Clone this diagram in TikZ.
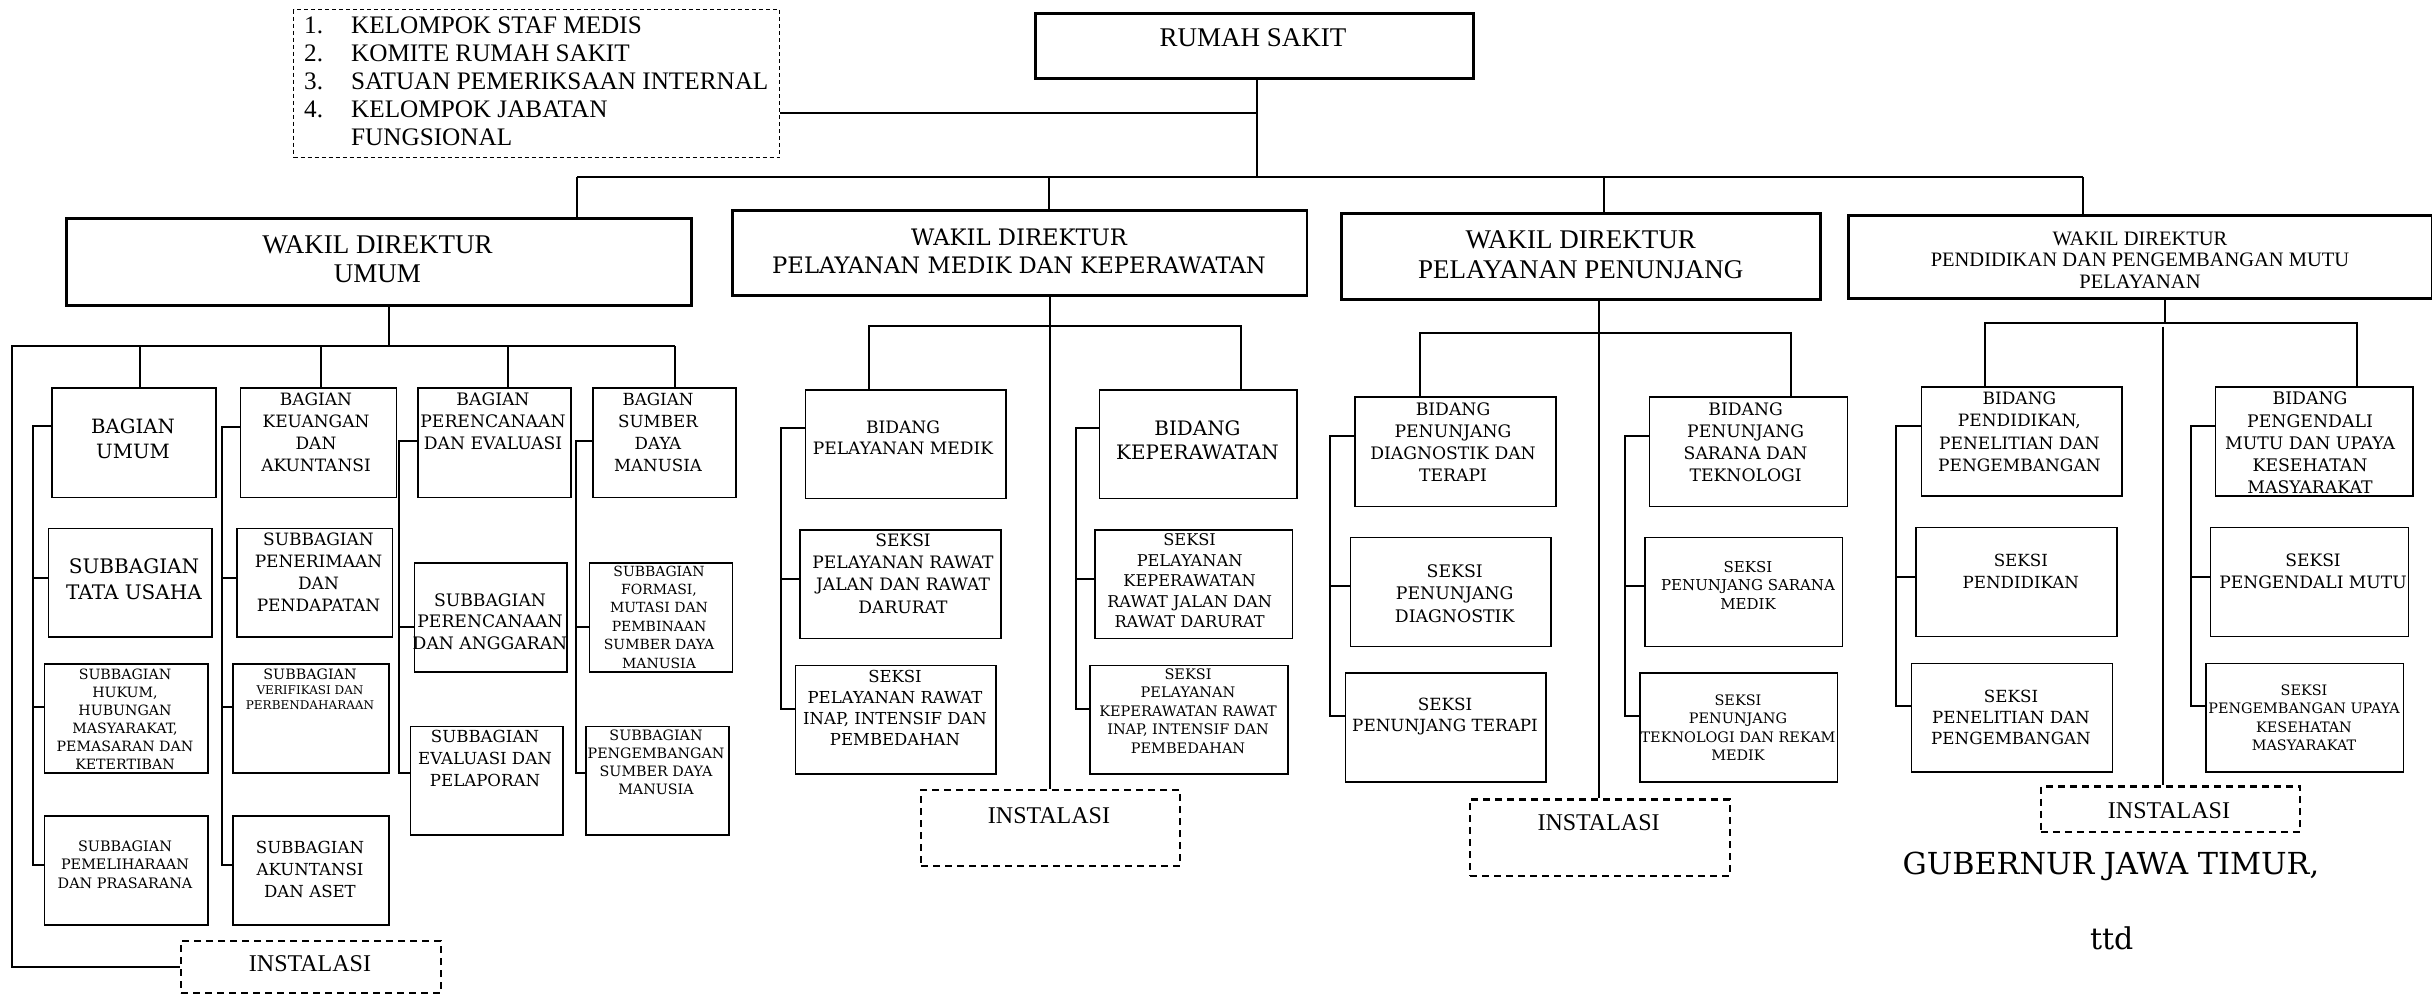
\documentclass[tikz,border=0pt]{standalone}
\usepackage{fontspec}
\setmainfont{Liberation Serif}
\newfontfamily\bkf{DejaVu Serif}
\usepackage{array}
\tikzset{
  bx/.style={draw, line width=1.6pt, inner sep=0pt},
  wk/.style={draw, line width=2.6pt, inner sep=0pt},
  inst/.style={draw, line width=2.2pt, dash pattern=on 7pt off 5pt, inner sep=0pt},
  leg/.style={draw, line width=1.3pt, dash pattern=on 4pt off 3pt, inner sep=0pt},
  ln/.style={line width=2pt},
  tx/.style={inner sep=0pt, align=center},
}
\newcommand\mkbox[6]{\node[#6, anchor=north west, minimum width={#4-#2}, minimum height={#5-#3}] (#1) at (#2,#3) {};}
\newcommand\mktxt[7]{\node[tx, font={#6\fontsize{#4}{#5}\selectfont}] (#1) at (#2,#3) {#7};}
\begin{document}
\begin{tikzpicture}[x=1pt,y=-1pt]
\useasboundingbox (0,0) rectangle (2432,995);
% ---------- top ----------
\mkbox{rs}{1034}{12}{1472}{77}{wk}
\mktxt{rst}{1253}{38}{27}{30}{}{RUMAH SAKIT}
\mkbox{legend}{293}{9}{779}{157}{leg}
\node[inner sep=0pt, anchor=base west, font=\fontsize{25.2}{28}\selectfont] (legt) at (304,33.3)
 {\begin{tabular}[t]{@{}p{47pt}@{}l@{}}1.&KELOMPOK STAF MEDIS\\2.&KOMITE RUMAH SAKIT\\3.&SATUAN PEMERIKSAAN INTERNAL\\4.&KELOMPOK JABATAN\\&FUNGSIONAL\end{tabular}};
\coordinate (jL) at (1257,113);
\coordinate (jB) at (1257,177);
\coordinate (busL) at (577,177);
\coordinate (busR) at (2083,177);
\draw[ln] (rs.south -| jB) -- (jB);
\draw[ln] (legend.east |- jL) -- (jL);
\draw[ln, line width=2.6pt] (busL) -- (busR);
% wakil boxes
\mkbox{w1}{65}{217}{690}{304}{wk}
\mktxt{w1t}{377.5}{259.5}{27}{29}{}{WAKIL DIREKTUR\\UMUM}
\mkbox{w2}{731}{209}{1305.5}{294}{wk}
\mktxt{w2t}{1019}{251}{22.7}{28}{\bkf}{WAKIL DIREKTUR\\PELAYANAN MEDIK DAN KEPERAWATAN}
\mkbox{w3}{1340}{212}{1819}{298}{wk}
\mktxt{w3t}{1580.7}{255}{27}{30}{}{WAKIL DIREKTUR\\PELAYANAN PENUNJANG}
\mkbox{w4}{1847}{214}{2431}{297}{wk}
\mktxt{w4t}{2140}{260}{20.5}{21.7}{}{WAKIL DIREKTUR\\PENDIDIKAN DAN PENGEMBANGAN MUTU\\PELAYANAN}
\draw[ln] (busL) -- (busL |- w1.north);
\draw[ln] (1049,177) -- (1049,0 |- w2.north);
\draw[ln] (1604,177) -- (1604,0 |- w3.north);
\draw[ln] (busR) -- (busR |- w4.north);
% ---------- section 1 ----------
\mkbox{c1a}{51}{387}{215}{496.5}{bx}
\mktxt{c1at}{133}{438.5}{19.7}{25}{\bkf}{BAGIAN\\UMUM}
\mkbox{c1b}{47.5}{527.5}{211}{636}{bx}
\mktxt{c1bt}{134}{579.4}{20}{25.5}{\bkf}{SUBBAGIAN\\TATA USAHA}
\mkbox{c1c}{43.6}{663}{207}{772}{bx}
\mktxt{c1ct}{125}{719}{14.2}{18}{\bkf}{SUBBAGIAN\\HUKUM,\\HUBUNGAN\\MASYARAKAT,\\PEMASARAN DAN\\KETERTIBAN}
\mkbox{c1d}{43.6}{815}{207}{924}{bx}
\mktxt{c1dt}{125}{864.5}{14.4}{18.5}{\bkf}{SUBBAGIAN\\PEMELIHARAAN\\DAN PRASARANA}
\mkbox{c2a}{239.5}{387}{395.5}{496.5}{bx}
\mktxt{c2at}{316}{432.5}{17}{22}{\bkf}{BAGIAN\\KEUANGAN\\DAN\\AKUNTANSI}
\mkbox{c2b}{236}{527.5}{391.7}{636}{bx}
\mktxt{c2bt}{318.5}{572.2}{17}{21.8}{\bkf}{SUBBAGIAN\\PENERIMAAN\\DAN\\PENDAPATAN}
\mkbox{c2c}{232}{663}{388}{772}{bx}
\mktxt{c2ct}{310}{674}{14.3}{18}{\bkf}{SUBBAGIAN}
\mktxt{c2cu}{310}{697.5}{12}{15}{\bkf}{VERIFIKASI DAN\\PERBENDAHARAAN}
\mkbox{c2d}{232}{815}{388}{924}{bx}
\mktxt{c2dt}{310}{869}{16.6}{22}{\bkf}{SUBBAGIAN\\AKUNTANSI\\DAN ASET}
\mkbox{c3a}{417}{387}{570}{496.5}{bx}
\mktxt{c3at}{493}{421.5}{17.2}{22}{\bkf}{BAGIAN\\PERENCANAAN\\DAN EVALUASI}
\mkbox{c3b}{413.5}{562}{566}{671}{bx}
\mktxt{c3bt}{490}{621.5}{17.2}{21.5}{\bkf}{SUBBAGIAN\\PERENCANAAN\\DAN ANGGARAN}
\mkbox{c3c}{409.6}{725.5}{562}{834.4}{bx}
\mktxt{c3ct}{485}{758}{16.6}{22}{\bkf}{SUBBAGIAN\\EVALUASI DAN\\PELAPORAN}
\mkbox{c4a}{592}{387}{735}{496.5}{bx}
\mktxt{c4at}{658}{432.5}{16.7}{22}{\bkf}{BAGIAN\\SUMBER\\DAYA\\MANUSIA}
\mkbox{c4b}{588.5}{562}{731.5}{671}{bx}
\mktxt{c4bt}{659}{617}{14}{18.4}{\bkf}{SUBBAGIAN\\FORMASI,\\MUTASI DAN\\PEMBINAAN\\SUMBER DAYA\\MANUSIA}
\mkbox{c4c}{585}{725.5}{728}{834.4}{bx}
\mktxt{c4ct}{656}{762}{14.3}{18}{\bkf}{SUBBAGIAN\\PENGEMBANGAN\\SUMBER DAYA\\MANUSIA}
\mkbox{inst1}{180}{940}{440}{992}{inst}
\mktxt{inst1t}{310}{964}{24}{28}{}{INSTALASI}
\coordinate (s1L) at (12,346);
\coordinate (s1R) at (675,346);
\draw[ln] (w1.south -| 389,0) -- (389,346);
\draw[ln] (s1R) -- (s1L) |- (inst1.west);
\draw[ln] (140,346) -- (140,0 |- c1a.north);
\draw[ln] (321,346) -- (321,0 |- c2a.north);
\draw[ln] (507.5,346) -- (507.5,0 |- c3a.north);
\draw[ln] (s1R) -- (s1R |- c4a.north);
\draw[ln] (c1a.west |- 0,426) -- (33,426) -- (33,864.6) -- (c1d.west |- 0,864.6);
\draw[ln] (33,578) -- (c1b.west |- 0,578);
\draw[ln] (33,707.4) -- (c1c.west |- 0,707.4);
\draw[ln] (c2a.west |- 0,427) -- (221.5,427) -- (221.5,864.6) -- (c2d.west |- 0,864.6);
\draw[ln] (221.5,578) -- (c2b.west |- 0,578);
\draw[ln] (221.5,707.4) -- (c2c.west |- 0,707.4);
\draw[ln] (c3a.west |- 0,441) -- (399,441) -- (399,773) -- (c3c.west |- 0,773);
\draw[ln] (399,626.5) -- (c3b.west |- 0,626.5);
\draw[ln] (c4a.west |- 0,441) -- (576,441) -- (576,773) -- (c4c.west |- 0,773);
\draw[ln] (576,626.5) -- (c4b.west |- 0,626.5);
% ---------- section 2 ----------
\mkbox{b2a}{804.5}{389}{1005.3}{497.5}{bx}
\mktxt{b2at}{903}{437.7}{17.1}{21.5}{\bkf}{BIDANG\\PELAYANAN MEDIK}
\mkbox{b2b}{799.3}{529}{1000}{637.5}{bx}
\mktxt{b2bt}{903}{573.5}{17.1}{22.3}{\bkf}{SEKSI\\PELAYANAN RAWAT\\JALAN DAN RAWAT\\DARURAT}
\mkbox{b2c}{794.6}{664.7}{995.4}{773.4}{bx}
\mktxt{b2ct}{895}{708}{16.5}{21.3}{\bkf}{SEKSI\\PELAYANAN RAWAT\\INAP, INTENSIF DAN\\PEMBEDAHAN}
\mkbox{b2d}{1098.6}{389}{1296.3}{497.5}{bx}
\mktxt{b2dt}{1197.5}{440}{19.9}{24}{\bkf}{BIDANG\\KEPERAWATAN}
\mkbox{b2e}{1094.3}{529}{1291.6}{637.5}{bx}
\mktxt{b2et}{1189.6}{581}{16.2}{20.5}{\bkf}{SEKSI\\PELAYANAN\\KEPERAWATAN\\RAWAT JALAN DAN\\RAWAT DARURAT}
\mkbox{b2f}{1089}{664.7}{1287}{773.4}{bx}
\mktxt{b2ft}{1188}{711}{14.5}{18.5}{\bkf}{SEKSI\\PELAYANAN\\KEPERAWATAN RAWAT\\INAP, INTENSIF DAN\\PEMBEDAHAN}
\mkbox{inst2}{920}{789}{1179}{865}{inst}
\mktxt{inst2t}{1049}{815.5}{24}{28}{}{INSTALASI}
\draw[ln] (w2.south -| 1049.6,0) -- (1049.6,0 |- inst2.north);
\draw[ln] (b2a.north -| 869,0) |- (1241.4,325.6) -- (1241.4,0 |- b2d.north);
\draw[ln] (b2a.west |- 0,428) -- (780.7,428) -- (780.7,708.7) -- (b2c.west |- 0,708.7);
\draw[ln] (780.7,579.4) -- (b2b.west |- 0,579.4);
\draw[ln] (b2d.west |- 0,428) -- (1075.7,428) -- (1075.7,708.7) -- (b2f.west |- 0,708.7);
\draw[ln] (1075.7,579.4) -- (b2e.west |- 0,579.4);
% ---------- section 3 ----------
\mkbox{b3a}{1354.4}{396.4}{1555.4}{505.5}{bx}
\mktxt{b3at}{1453}{442}{17.2}{22}{\bkf}{BIDANG\\PENUNJANG\\DIAGNOSTIK DAN\\TERAPI}
\mkbox{b3b}{1349.5}{536.5}{1550.4}{645.6}{bx}
\mktxt{b3bt}{1454.7}{593.5}{17.3}{22.5}{\bkf}{SEKSI\\PENUNJANG\\DIAGNOSTIK}
\mkbox{b3c}{1344.5}{672.4}{1545.4}{781.4}{bx}
\mktxt{b3ct}{1445}{716.2}{16.8}{21}{\bkf}{SEKSI\\PENUNJANG TERAPI}
\mkbox{b3d}{1648.7}{396.4}{1846.6}{505.5}{bx}
\mktxt{b3dt}{1745.6}{442}{17.2}{22}{\bkf}{BIDANG\\PENUNJANG\\SARANA DAN\\TEKNOLOGI}
\mkbox{b3e}{1644}{536.5}{1841.6}{645.6}{bx}
\mktxt{b3et}{1748}{585.4}{15}{18.7}{\bkf}{SEKSI\\PENUNJANG SARANA\\MEDIK}
\mkbox{b3f}{1639}{672.4}{1836.6}{781.4}{bx}
\mktxt{b3ft}{1738}{727.7}{14.45}{18.5}{\bkf}{SEKSI\\PENUNJANG\\TEKNOLOGI DAN REKAM\\MEDIK}
\mkbox{inst3}{1469}{798.3}{1728.7}{875}{inst}
\mktxt{inst3t}{1598.6}{823}{24}{28}{}{INSTALASI}
\draw[ln] (w3.south -| 1599.4,0) -- (1599.4,0 |- inst3.north);
\draw[ln] (b3a.north -| 1419.5,0) |- (1791,333.3) -- (1791,0 |- b3d.north);
\draw[ln] (b3a.west |- 0,435.5) -- (1330.3,435.5) -- (1330.3,716) -- (b3c.west |- 0,716);
\draw[ln] (1330.3,586.3) -- (b3b.west |- 0,586.3);
\draw[ln] (b3d.west |- 0,435.5) -- (1625.4,435.5) -- (1625.4,716) -- (b3f.west |- 0,716);
\draw[ln] (1625.4,586.3) -- (b3e.west |- 0,586.3);
% ---------- section 4 ----------
\mkbox{b4a}{1920.5}{386.4}{2121}{495}{bx}
\mktxt{b4at}{2019.4}{431.9}{17}{22.3}{\bkf}{BIDANG\\PENDIDIKAN,\\PENELITIAN DAN\\PENGEMBANGAN}
\mkbox{b4b}{1915}{526.5}{2116}{635.5}{bx}
\mktxt{b4bt}{2020.8}{571.5}{16.7}{21.8}{\bkf}{SEKSI\\PENDIDIKAN}
\mkbox{b4c}{1910.6}{662.6}{2111.6}{771.2}{bx}
\mktxt{b4ct}{2011}{717}{16.7}{21}{\bkf}{SEKSI\\PENELITIAN DAN\\PENGEMBANGAN}
\mkbox{b4d}{2214.7}{386.4}{2412.2}{495}{bx}
\mktxt{b4dt}{2310}{443}{17.3}{22.3}{\bkf}{BIDANG\\PENGENDALI\\MUTU DAN UPAYA\\KESEHATAN\\MASYARAKAT}
\mkbox{b4e}{2209.8}{526.5}{2407.6}{635.5}{bx}
\mktxt{b4et}{2313}{571.5}{17.1}{21.8}{\bkf}{SEKSI\\PENGENDALI MUTU}
\mkbox{b4f}{2205}{662.6}{2402.7}{771.2}{bx}
\mktxt{b4ft}{2304}{718}{14.4}{18.5}{\bkf}{SEKSI\\PENGEMBANGAN UPAYA\\KESEHATAN\\MASYARAKAT}
\mkbox{inst4}{2039.8}{785.4}{2298.9}{831}{inst}
\mktxt{inst4t}{2169}{811}{24}{28}{}{INSTALASI}
\draw[ln] (w4.south -| 2165,0) -- (2165,323);
\draw[ln] (b4a.north -| 1985,0) |- (2357.3,323) -- (2357.3,0 |- b4d.north);
\draw[ln] (2163,326.6) -- (2163,0 |- inst4.north);
\draw[ln] (b4a.west |- 0,426) -- (1896.2,426) -- (1896.2,706) -- (b4c.west |- 0,706);
\draw[ln] (1896.2,577) -- (b4b.west |- 0,577);
\draw[ln] (b4d.west |- 0,426) -- (2191,426) -- (2191,706) -- (b4f.west |- 0,706);
\draw[ln] (2191,577) -- (b4e.west |- 0,577);
% ---------- signature ----------
\node[inner sep=0pt, anchor=base, font=\bkf\fontsize{30.3}{36}\selectfont] (gub) at (2110.8,874) {GUBERNUR JAWA TIMUR,};
\node[inner sep=0pt, anchor=base, font=\bkf\fontsize{30}{36}\selectfont] (ttd) at (2111.7,949) {ttd};
\end{tikzpicture}
\end{document}
